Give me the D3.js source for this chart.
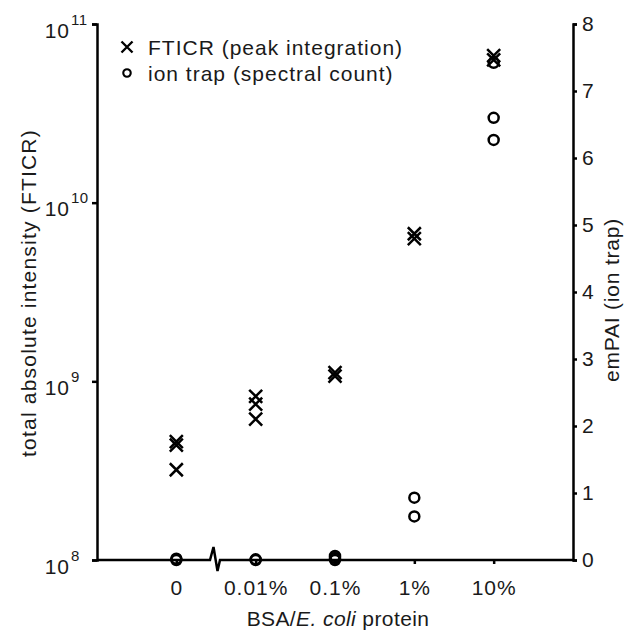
<!DOCTYPE html>
<html>
<head>
<meta charset="utf-8">
<script src="https://cdn.jsdelivr.net/npm/d3@7"></script>
<style>
  html, body { margin: 0; padding: 0; background: #fff; }
  svg { display: block; }
  text { font-family: "Liberation Sans", Arial, sans-serif; fill: #1a1a1a; }
</style>
</head>
<body>
<div id="chart"></div>
<script>
// categories on the x axis (BSA / E. coli protein)
const categories = ["0", "0.01%", "0.1%", "1%", "10%"];
// FTICR total absolute intensity, replicates per category
const fticrValues = [
  [4.4e8, 4.6e8, 3.2e8],
  [8.25e8, 7.45e8, 6.15e8],
  [1.07e9, 1.12e9],
  [6.3e9, 6.7e9],
  [6.3e10, 6.65e10]
];
// ion trap emPAI, replicates per category
const empaiValues = [
  [0, 0.02],
  [0, 0.01],
  [0, 0.03, 0.06],
  [0.93, 0.65],
  [7.42, 6.6, 6.27]
];
const leftTicks = [1e8, 1e9, 1e10, 1e11];
const rightTicks = [0, 1, 2, 3, 4, 5, 6, 7, 8];

const width = 634, height = 633;
const margin = { top: 24, right: 61, bottom: 73, left: 97 };
const innerWidth = width - margin.left - margin.right;
const innerHeight = height - margin.top - margin.bottom;

const svg = d3.select("#chart")
  .append("svg")
    .attr("width", width)
    .attr("height", height);

const innerChart = svg.append("g")
  .attr("transform", `translate(${margin.left}, ${margin.top})`);

/*******************************/
/*    scales                   */
/*******************************/
const xScale = d3.scalePoint()
  .domain(categories)
  .range([0, innerWidth])
  .padding(1);

const yLeft = d3.scaleLog()
  .domain([1e8, 1e11])
  .range([innerHeight, 0]);

const yRight = d3.scaleLinear()
  .domain([0, 8])
  .range([innerHeight, 0]);

/*******************************/
/*    axes                     */
/*******************************/
const leftAxis = innerChart.append("g")
  .call(d3.axisLeft(yLeft).tickValues(leftTicks).tickSize(5).tickFormat(""));
leftAxis.select(".domain").attr("stroke-width", 2.5);
leftAxis.selectAll(".tick line").attr("stroke-width", 2.5);

leftAxis.selectAll(".tick")
  .append("text")
    .attr("x", -27)
    .attr("y", 13)
    .attr("text-anchor", "end")
    .style("font-size", "21px")
    .style("letter-spacing", "1px")
    .text("10");
leftAxis.selectAll(".tick")
  .append("text")
    .attr("x", -26)
    .attr("y", 0)
    .attr("text-anchor", "start")
    .style("font-size", "15px")
    .style("letter-spacing", "0.5px")
    .text(d => Math.round(Math.log10(d)));

const rightAxis = innerChart.append("g")
  .attr("transform", `translate(${innerWidth}, 0)`)
  .call(d3.axisRight(yRight).tickValues(rightTicks).tickSize(4).tickPadding(5));
rightAxis.select(".domain").attr("stroke-width", 2.5);
rightAxis.selectAll(".tick line").attr("stroke-width", 2.5);
rightAxis.selectAll(".tick text")
  .style("font-size", "21px")
  .attr("fill", "#1a1a1a");

const xAxis = innerChart.append("g")
  .attr("transform", `translate(0, ${innerHeight})`)
  .call(d3.axisBottom(xScale).tickSize(4).tickPadding(16));
xAxis.select(".domain").remove();
xAxis.selectAll(".tick line").attr("stroke-width", 2.5);
xAxis.selectAll(".tick text")
  .style("font-size", "21px")
  .style("letter-spacing", "1px")
  .attr("fill", "#1a1a1a");

// x axis line with a break between "0" and "0.01%"
const bx = (xScale(categories[0]) + xScale(categories[1])) / 2 - 1;
const breakPath = d3.line()([
  [0, 0], [bx - 5, 0], [bx - 1.5, -13], [bx + 2.5, 11], [bx + 5, 0], [innerWidth, 0]
]);
xAxis.append("path")
  .attr("d", breakPath)
  .attr("fill", "none")
  .attr("stroke", "#000")
  .attr("stroke-width", 2.5)
  .attr("stroke-linejoin", "miter");

/*******************************/
/*    axis titles              */
/*******************************/
svg.append("text")
  .attr("transform", "translate(36, 293) rotate(-90)")
  .attr("text-anchor", "middle")
  .style("font-size", "21px")
  .style("letter-spacing", "1.2px")
  .text("total absolute intensity (FTICR)");

svg.append("text")
  .attr("transform", "translate(619, 300) rotate(-90)")
  .attr("text-anchor", "middle")
  .style("font-size", "21px")
  .style("letter-spacing", "0.8px")
  .text("emPAI (ion trap)");

const xTitle = svg.append("text")
  .attr("x", margin.left + innerWidth / 2 + 3)
  .attr("y", 626)
  .attr("text-anchor", "middle")
  .style("font-size", "21px")
  .style("letter-spacing", "0.4px");
xTitle.append("tspan").text("BSA/");
xTitle.append("tspan").style("font-style", "italic").text("E. coli");
xTitle.append("tspan").text(" protein");

/*******************************/
/*    marks                    */
/*******************************/
const crossSymbol = d3.symbol().type(d3.symbolTimes).size(112);
const circleSymbol = d3.symbol().type(d3.symbolCircle).size(78);

const fticrPoints = fticrValues.flatMap((vals, i) => vals.map(v => ({ cat: categories[i], v })));
const empaiPoints = empaiValues.flatMap((vals, i) => vals.map(v => ({ cat: categories[i], v })));

innerChart.selectAll(".empai")
  .data(empaiPoints)
  .join("path")
    .attr("class", "empai")
    .attr("d", circleSymbol)
    .attr("transform", d => `translate(${xScale(d.cat)}, ${yRight(d.v)})`)
    .attr("fill", "none")
    .attr("stroke", "#000")
    .attr("stroke-width", 2.5);

innerChart.selectAll(".fticr")
  .data(fticrPoints)
  .join("path")
    .attr("class", "fticr")
    .attr("d", crossSymbol)
    .attr("transform", d => `translate(${xScale(d.cat)}, ${yLeft(d.v)})`)
    .attr("fill", "none")
    .attr("stroke", "#000")
    .attr("stroke-width", 2.5);

/*******************************/
/*    legend                   */
/*******************************/
const legendItems = [
  { label: "FTICR (peak integration)", symbol: crossSymbol },
  { label: "ion trap (spectral count)", symbol: circleSymbol }
];
const legend = svg.append("g")
  .attr("transform", "translate(127, 47)");
legendItems.forEach((item, i) => {
  const row = legend.append("g").attr("transform", `translate(0, ${i * 26})`);
  row.append("path")
    .attr("d", item.symbol)
    .attr("transform", i === 0 ? "scale(0.85)" : "scale(0.75)")
    .attr("fill", "none")
    .attr("stroke", "#000")
    .attr("stroke-width", 2.8);
  row.append("text")
    .attr("x", 21)
    .attr("y", 8)
    .style("font-size", "21px")
    .style("letter-spacing", "1px")
    .text(item.label);
});
</script>
</body>
</html>
